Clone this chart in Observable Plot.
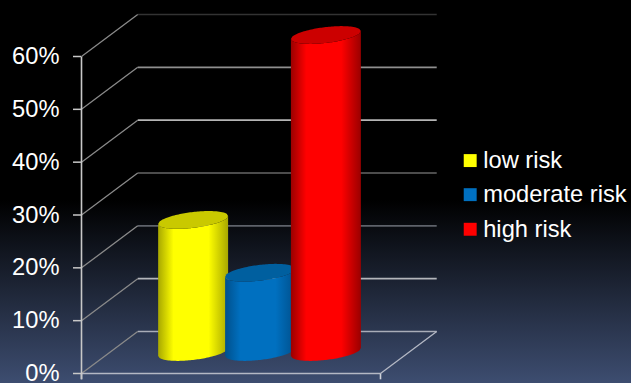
<!DOCTYPE html>
<html>
<head>
<meta charset="utf-8">
<script src="https://cdn.jsdelivr.net/npm/d3@7"></script>
<script src="https://cdn.jsdelivr.net/npm/@observablehq/plot@0.6"></script>
<style>
  html, body { margin: 0; padding: 0; width: 631px; height: 383px; overflow: hidden; }
  body { background: linear-gradient(to bottom, #000 0, #000 200px, #3d4d70 383px); }
  svg { display: block; }
</style>
</head>
<body>
<div id="chart"></div>
<script>
// Share of patients in each risk group
const categories = ["low risk", "moderate risk", "high risk"];
const shares = [25, 15, 60];
const colors = ["#ffff00", "#0070c0", "#ff0000"];
const edgeColors = ["#a8a800", "#00508c", "#9a0000"];
const capColors = ["#c9c900", "#005f9f", "#cc0000"];

// Horizontal position of each cylinder's centre, 0–100 along the floor
const positions = [37.5, 59.9, 81.9];
const gridLevels = [0, 10, 20, 30, 40, 50, 60];
const gridColors = ["#a9adb8", "#b4b6bb", "#5e626a", "#666", "#b5b5b5", "#8f8f8f", "#333"];
const legendLevels = [40.3, 33.85, 27.3];

// Oblique projection: how far the back wall sits from the front axis
const depthX = 18.8, depthY = 7.95;
const radiusX = 11.7, tiltY = 0.76, radiusY = 1.5;
const floorWidth = 100;
const tickDrop = -1.1;

// Rim of a cylinder at a given height, sampled left to right
const rim = (cx, level, side) => d3.range(0, 49).map(i => {
  const c = -1 + i / 24;
  const s = Math.sqrt(Math.max(0, 1 - c * c));
  return {x: cx + radiusX * c, y: level + tiltY * c + side * radiusY * s};
});

const bodies = categories.map((name, i) => {
  const base = depthY / 2;
  const lower = rim(positions[i], base, -1);
  const upper = rim(positions[i], base + shares[i], -1);
  return lower.map((p, k) => ({x: p.x, y1: p.y, y2: upper[k].y}));
});
const caps = categories.map((name, i) => {
  const top = depthY / 2 + shares[i];
  const upper = rim(positions[i], top, 1);
  const lower = rim(positions[i], top, -1);
  return upper.map((p, k) => ({x: p.x, y1: lower[k].y, y2: p.y}));
});

const gradients = () => {
  const ns = "http://www.w3.org/2000/svg";
  const defs = document.createElementNS(ns, "defs");
  categories.forEach((name, i) => {
    const g = document.createElementNS(ns, "linearGradient");
    g.setAttribute("id", "cyl" + i);
    [[0, edgeColors[i]], [0.22, colors[i]], [0.72, colors[i]], [1, edgeColors[i]]].forEach(([o, c]) => {
      const stop = document.createElementNS(ns, "stop");
      stop.setAttribute("offset", o);
      stop.setAttribute("stop-color", c);
      g.appendChild(stop);
    });
    defs.appendChild(g);
  });
  return defs;
};

const chart = Plot.plot({
  width: 631,
  height: 383,
  marginLeft: 81,
  marginRight: 251,
  marginTop: 56,
  marginBottom: 10,
  style: {background: "transparent", color: "#fff", fontFamily: "'Liberation Sans', Arial, sans-serif"},
  x: {domain: [0, floorWidth], axis: null},
  y: {domain: [0, 60], axis: null},
  marks: [
    gradients,
    // Back wall lines and the diagonals joining them to the front axis
    Plot.link(gridLevels, {
      x1: depthX, x2: depthX + floorWidth,
      y1: d => d + depthY, y2: d => d + depthY,
      stroke: (d, i) => gridColors[i], strokeWidth: 1.6
    }),
    Plot.link(gridLevels, {
      x1: 0, x2: depthX, y1: d => d, y2: d => d + depthY,
      stroke: "#8a8a8a", strokeWidth: 1.3
    }),
    // Floor edges and the two ticks below the front edge
    Plot.link([0], {x1: 0, x2: floorWidth, y1: 0, y2: 0, stroke: "#b4b8c4", strokeWidth: 1.6}),
    Plot.link([0], {x1: floorWidth, x2: floorWidth + depthX, y1: 0, y2: depthY, stroke: "#b4b8c4", strokeWidth: 1.3}),
    Plot.link([0, floorWidth], {x1: d => d, x2: d => d, y1: 0, y2: tickDrop, stroke: "#cfd2da", strokeWidth: 1.6}),
    // Vertical axis with percentage labels
    Plot.link([0], {x1: 0, x2: 0, y1: tickDrop, y2: 60, stroke: "#c8c8c8", strokeWidth: 1.6}),
    Plot.axisY({
      ticks: gridLevels, tickFormat: d => d + "%", tickSize: 8, tickPadding: 14,
      fontSize: 23.7, stroke: "#c8c8c8", strokeWidth: 1.5
    }),
    // One cylinder per risk group, drawn left to right
    ...categories.flatMap((name, i) => [
      Plot.areaY(bodies[i], {x: "x", y1: "y1", y2: "y2", fill: `url(#cyl${i})`}),
      Plot.areaY(caps[i], {x: "x", y1: "y1", y2: "y2", fill: capColors[i]})
    ]),
    // Legend
    Plot.dot(categories, {
      x: 130, y: (d, i) => legendLevels[i], symbol: "square", r: 7.3,
      fill: (d, i) => colors[i], stroke: "none"
    }),
    Plot.text(categories, {
      x: 130, y: (d, i) => legendLevels[i], text: d => d, dx: 13, textAnchor: "start",
      fontSize: 23.7, fill: "#fff"
    })
  ]
});
document.getElementById("chart").appendChild(chart);
</script>
</body>
</html>
